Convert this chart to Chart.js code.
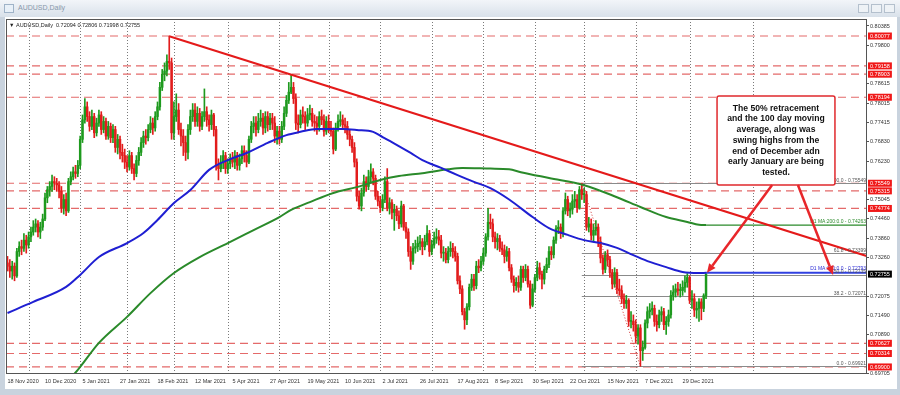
<!DOCTYPE html>
<html>
<head>
<meta charset="utf-8">
<script src="https://cdn.jsdelivr.net/npm/chart.js@4.4.1/dist/chart.umd.min.js"></script>
<style>
  html, body { margin: 0; padding: 0; background: #cfd8e2; }
  #wrap { position: relative; width: 900px; height: 395px; overflow: hidden; background: #c9d3de; font-family: "Liberation Sans", Arial, sans-serif; }
  #title { position: absolute; left: 0; top: 0; width: 900px; height: 17px; background: linear-gradient(#f2f5f9, #d9e1ea); }
  #title .ico { position: absolute; left: 4px; top: 4px; width: 8px; height: 7px; border: 1px solid #9fb3c8; background: #e8f0f8; }
  #title .txt { position: absolute; left: 18px; top: 4px; font-size: 7px; color: #8797aa; }
  #title .btn { position: absolute; top: 4px; width: 9px; height: 7px; border: 1px solid #b4c0cd; background: #eef2f6; }
  #panel { position: absolute; left: 5px; top: 17px; width: 892px; height: 372px; background: #fff; }
  canvas { position: absolute; left: 0; top: 0; }
</style>
</head>
<body>
<div id="wrap">
  <div id="title">
    <div class="ico"></div><div class="txt">AUDUSD,Daily</div>
    <div class="btn" style="left:858px"></div><div class="btn" style="left:871px"></div><div class="btn" style="left:884px"></div>
  </div>
  <div id="panel"></div>
  <canvas id="chart" width="900" height="395"></canvas>
</div>
<script>
/* AUDUSD daily candles, 18 Nov 2020 - 12 Jan 2022 */

const symbolName = 'AUDUSD,Daily';
const firstOpen = 0.7310;

const closes = [
  0.7300,0.7285,0.7300,0.7270,0.7345,0.7360,0.7355,0.7380,0.7365,0.7390,0.7405,0.7420,0.7430,0.7405,0.7420,0.7445,
  0.7510,0.7535,0.7545,0.7560,0.7555,0.7550,0.7530,0.7480,0.7505,0.7470,0.7560,0.7575,0.7590,0.7585,0.7610,0.7690,
  0.7750,0.7790,0.7760,0.7730,0.7760,0.7710,0.7740,0.7765,0.7720,0.7745,0.7700,0.7730,0.7695,0.7720,0.7665,0.7690,
  0.7650,0.7640,0.7620,0.7605,0.7640,0.7600,0.7585,0.7625,0.7650,0.7680,0.7700,0.7695,0.7720,0.7740,0.7725,0.7760,
  0.7790,0.7850,0.7890,0.7900,0.7930,0.7925,0.7710,0.7760,0.7780,0.7720,0.7700,0.7680,0.7650,0.7720,0.7760,0.7780,
  0.7745,0.7770,0.7730,0.7760,0.7775,0.7750,0.7735,0.7765,0.7720,0.7610,0.7600,0.7620,0.7640,0.7600,0.7615,0.7630,
  0.7620,0.7640,0.7610,0.7630,0.7655,0.7640,0.7620,0.7690,0.7730,0.7740,0.7720,0.7745,0.7755,0.7725,0.7760,0.7735,
  0.7755,0.7740,0.7700,0.7715,0.7690,0.7730,0.7770,0.7810,0.7835,0.7850,0.7815,0.7740,0.7735,0.7765,0.7760,0.7740,
  0.7765,0.7770,0.7745,0.7740,0.7730,0.7760,0.7750,0.7715,0.7745,0.7725,0.7715,0.7660,0.7725,0.7745,0.7750,0.7735,
  0.7730,0.7705,0.7690,0.7665,0.7620,0.7515,0.7485,0.7525,0.7560,0.7545,0.7575,0.7590,0.7570,0.7515,0.7500,0.7480,
  0.7505,0.7560,0.7480,0.7495,0.7465,0.7475,0.7455,0.7430,0.7485,0.7420,0.7405,0.7345,0.7315,0.7355,0.7360,0.7370,
  0.7375,0.7360,0.7375,0.7400,0.7345,0.7365,0.7385,0.7390,0.7380,0.7340,0.7340,0.7320,0.7345,0.7355,0.7345,0.7330,
  0.7255,0.7230,0.7160,0.7135,0.7175,0.7235,0.7260,0.7240,0.7300,0.7295,0.7315,0.7340,0.7390,0.7435,0.7430,0.7390,
  0.7375,0.7385,0.7355,0.7350,0.7330,0.7345,0.7295,0.7260,0.7240,0.7250,0.7235,0.7290,0.7265,0.7290,0.7245,0.7180,
  0.7230,0.7265,0.7295,0.7275,0.7260,0.7290,0.7305,0.7345,0.7335,0.7380,0.7415,0.7420,0.7400,0.7470,0.7505,0.7470,
  0.7475,0.7500,0.7505,0.7480,0.7535,0.7520,0.7520,0.7420,0.7430,0.7395,0.7410,0.7420,0.7375,0.7325,0.7290,0.7335,
  0.7320,0.7280,0.7245,0.7280,0.7230,0.7225,0.7200,0.7185,0.7195,0.7130,0.7130,0.7120,0.7085,0.7110,0.7040,0.7050,
  0.7125,0.7160,0.7165,0.7170,0.7130,0.7120,0.7150,0.7160,0.7120,0.7130,0.7150,0.7210,0.7220,0.7230,0.7225,0.7225,
  0.7235,0.7250,0.7265,0.7195,0.7200,0.7165,0.7170,0.7190,0.7170,0.72094,0.72755
];

const highs = [
  0.7330,0.7320,0.7315,0.7310,0.7355,0.7375,0.7380,0.7400,0.7395,0.7405,0.7420,0.7440,0.7445,0.7440,0.7435,0.7460,
  0.7525,0.7545,0.7560,0.7580,0.7575,0.7570,0.7560,0.7545,0.7520,0.7525,0.7570,0.7590,0.7605,0.7610,0.7625,0.7700,
  0.7765,0.7815,0.7805,0.7775,0.7780,0.7770,0.7755,0.7780,0.7775,0.7760,0.7755,0.7745,0.7740,0.7735,0.7730,0.7705,
  0.7700,0.7675,0.7660,0.7640,0.7655,0.7650,0.7615,0.7640,0.7665,0.7695,0.7715,0.7720,0.7735,0.7760,0.7755,0.7775,
  0.7805,0.7865,0.7905,0.7925,0.7950,0.8007,0.7940,0.7805,0.7830,0.7800,0.7740,0.7720,0.7700,0.7735,0.7780,0.7800,
  0.7800,0.7790,0.7785,0.7775,0.7845,0.7790,0.7765,0.7780,0.7770,0.7730,0.7630,0.7640,0.7655,0.7650,0.7630,0.7645,
  0.7650,0.7655,0.7650,0.7645,0.7670,0.7670,0.7655,0.7700,0.7745,0.7760,0.7760,0.7770,0.7780,0.7770,0.7775,0.7775,
  0.7770,0.7770,0.7760,0.7730,0.7730,0.7745,0.7790,0.7825,0.7865,0.7890,0.7865,0.7830,0.7765,0.7780,0.7790,0.7775,
  0.7785,0.7795,0.7785,0.7765,0.7760,0.7775,0.7780,0.7765,0.7760,0.7765,0.7745,0.7725,0.7740,0.7765,0.7775,0.7765,
  0.7755,0.7745,0.7720,0.7700,0.7680,0.7630,0.7530,0.7540,0.7580,0.7575,0.7595,0.7615,0.7600,0.7580,0.7530,0.7515,
  0.7520,0.7575,0.7600,0.7510,0.7505,0.7490,0.7485,0.7470,0.7500,0.7490,0.7435,0.7415,0.7360,0.7370,0.7380,0.7390,
  0.7395,0.7385,0.7395,0.7425,0.7410,0.7380,0.7405,0.7415,0.7410,0.7395,0.7360,0.7355,0.7360,0.7375,0.7370,0.7360,
  0.7340,0.7270,0.7240,0.7170,0.7185,0.7245,0.7275,0.7275,0.7315,0.7320,0.7330,0.7355,0.7400,0.7478,0.7460,0.7445,
  0.7405,0.7400,0.7395,0.7375,0.7365,0.7360,0.7355,0.7305,0.7270,0.7265,0.7270,0.7300,0.7300,0.7305,0.7300,0.7255,
  0.7245,0.7275,0.7315,0.7310,0.7285,0.7300,0.7325,0.7360,0.7360,0.7390,0.7425,0.7440,0.7430,0.7480,0.7525,0.7515,
  0.7495,0.7520,0.7530,0.7520,0.7545,0.7555,0.7540,0.7530,0.7450,0.7445,0.7430,0.7440,0.7430,0.7390,0.7335,0.7345,
  0.7350,0.7330,0.7290,0.7295,0.7290,0.7260,0.7240,0.7215,0.7210,0.7200,0.7160,0.7150,0.7135,0.7120,0.7120,0.7070,
  0.7135,0.7175,0.7185,0.7190,0.7180,0.7150,0.7165,0.7175,0.7170,0.7145,0.7165,0.7225,0.7240,0.7245,0.7250,0.7245,
  0.7255,0.7270,0.7277,0.7270,0.7225,0.7215,0.7190,0.7200,0.7200,0.7215,0.72806
];

const lows = [
  0.7285,0.7265,0.7260,0.7255,0.7265,0.7330,0.7335,0.7345,0.7340,0.7355,0.7375,0.7395,0.7405,0.7390,0.7385,0.7410,
  0.7440,0.7495,0.7515,0.7530,0.7535,0.7530,0.7510,0.7465,0.7460,0.7455,0.7465,0.7550,0.7565,0.7570,0.7575,0.7600,
  0.7680,0.7740,0.7745,0.7715,0.7720,0.7695,0.7700,0.7730,0.7705,0.7710,0.7690,0.7690,0.7680,0.7680,0.7650,0.7645,
  0.7630,0.7620,0.7600,0.7590,0.7595,0.7585,0.7565,0.7575,0.7610,0.7640,0.7665,0.7675,0.7685,0.7710,0.7705,0.7715,
  0.7750,0.7780,0.7840,0.7870,0.7885,0.7905,0.7690,0.7690,0.7745,0.7705,0.7670,0.7640,0.7625,0.7630,0.7705,0.7745,
  0.7730,0.7730,0.7715,0.7720,0.7745,0.7730,0.7715,0.7720,0.7700,0.7595,0.7565,0.7590,0.7600,0.7585,0.7585,0.7600,
  0.7605,0.7600,0.7595,0.7595,0.7615,0.7620,0.7605,0.7615,0.7680,0.7710,0.7700,0.7710,0.7730,0.7705,0.7710,0.7715,
  0.7720,0.7720,0.7680,0.7675,0.7675,0.7680,0.7720,0.7760,0.7800,0.7830,0.7800,0.7720,0.7710,0.7725,0.7740,0.7720,
  0.7730,0.7750,0.7730,0.7715,0.7705,0.7715,0.7735,0.7700,0.7705,0.7710,0.7700,0.7645,0.7655,0.7715,0.7730,0.7720,
  0.7710,0.7690,0.7670,0.7650,0.7605,0.7500,0.7475,0.7470,0.7515,0.7530,0.7535,0.7560,0.7550,0.7505,0.7485,0.7465,
  0.7470,0.7495,0.7470,0.7460,0.7445,0.7410,0.7440,0.7415,0.7420,0.7410,0.7385,0.7330,0.7290,0.7305,0.7340,0.7345,
  0.7350,0.7335,0.7350,0.7365,0.7330,0.7335,0.7355,0.7370,0.7365,0.7325,0.7315,0.7310,0.7310,0.7330,0.7325,0.7315,
  0.7245,0.7215,0.7150,0.7106,0.7120,0.7165,0.7225,0.7225,0.7230,0.7280,0.7285,0.7305,0.7330,0.7380,0.7415,0.7375,
  0.7355,0.7350,0.7345,0.7335,0.7310,0.7315,0.7285,0.7250,0.7220,0.7225,0.7220,0.7225,0.7250,0.7255,0.7235,0.7170,
  0.7175,0.7220,0.7255,0.7260,0.7230,0.7245,0.7280,0.7295,0.7320,0.7325,0.7370,0.7400,0.7385,0.7390,0.7460,0.7455,
  0.7450,0.7460,0.7480,0.7465,0.7475,0.7505,0.7495,0.7410,0.7405,0.7380,0.7375,0.7395,0.7360,0.7310,0.7275,0.7280,
  0.7300,0.7265,0.7230,0.7235,0.7215,0.7210,0.7185,0.7170,0.7170,0.7115,0.7110,0.7100,0.7065,0.7060,0.6992,0.7010,
  0.7045,0.7110,0.7140,0.7150,0.7115,0.7100,0.7110,0.7130,0.7105,0.7090,0.7115,0.7140,0.7195,0.7205,0.7210,0.7205,
  0.7210,0.7220,0.7235,0.7185,0.7170,0.7145,0.7140,0.7130,0.7135,0.7160,0.71998
];

// x axis: one label every 16 bars
const dateLabels = ['18 Nov 2020','10 Dec 2020','5 Jan 2021','27 Jan 2021','18 Feb 2021','12 Mar 2021','5 Apr 2021',
  '27 Apr 2021','19 May 2021','10 Jun 2021','2 Jul 2021','26 Jul 2021','17 Aug 2021','8 Sep 2021','30 Sep 2021',
  '22 Oct 2021','15 Nov 2021','7 Dec 2021','29 Dec 2021'];
const labelStep = 16;
// bar index of the first session of each month (dotted separators)
const monthStarts = [9, 31, 51, 71, 94, 116, 137, 159, 181, 203, 225, 246, 268, 291, 318];

const priceTicks = [0.80385, 0.79800, 0.78615, 0.78015, 0.77415, 0.76830, 0.76230, 0.75045, 0.74460,
  0.73860, 0.73260, 0.72075, 0.71490, 0.70890, 0.69705];

// moving averages (bar index, value)
const ma100Idx = [0, 11, 25, 31, 39, 51, 58, 64, 71, 78, 86, 94, 102, 111, 119, 125, 132, 143, 149, 156, 160, 166,
  172, 177, 185, 192, 199, 206, 214, 224, 231, 239, 246, 253, 260, 267, 274, 281, 288, 295, 298];
const ma100Val = [0.7156, 0.7190, 0.7236, 0.7273, 0.7328, 0.7371, 0.7402, 0.7442, 0.7494, 0.7534, 0.7596, 0.7626,
  0.7648, 0.7679, 0.7703, 0.7713, 0.7722, 0.7722, 0.7719, 0.7713, 0.7697, 0.7673, 0.7648, 0.7626, 0.7602, 0.7580,
  0.7559, 0.7540, 0.7505, 0.7451, 0.7417, 0.7396, 0.7380, 0.7371, 0.7356, 0.7334, 0.7313, 0.7297, 0.7282, 0.7279, 0.72793];
const ma200Idx = [22, 30, 39, 51, 61, 71, 82, 94, 105, 116, 121, 129, 139, 149, 159, 167, 177, 188, 194, 206, 214,
  219, 231, 246, 260, 270, 281, 290, 295, 298];
const ma200Val = [0.6919, 0.6981, 0.7064, 0.7144, 0.7217, 0.7279, 0.7328, 0.7371, 0.7411, 0.7451, 0.7473, 0.7497,
  0.7525, 0.7543, 0.7565, 0.7577, 0.7586, 0.7598, 0.7602, 0.7600, 0.7598, 0.7589, 0.7571, 0.7549, 0.7512, 0.7482,
  0.7451, 0.7436, 0.7427, 0.74263];
const ma100Last = 0.72793;
const ma200Last = 0.74263;

// drawn objects
const trendIdx = [69, 367];
const trendVal = [0.8007, 0.7330];
const fibIdx = [245, 270];
const fibLevels = [0.75549, 0.73399, 0.72735, 0.72071, 0.69921];
const fibNames = ['100.0', '61.8', '50.0', '38.2', '0.0'];
const redLevels = [0.80077, 0.79158, 0.78903, 0.78194, 0.75549, 0.75315, 0.74774, 0.70627, 0.70314, 0.69900];

const noteLines = ['The 50% retracement', 'and the 100 day moving', 'average, along was', 'swing highs from the',
  'end of December adn', 'early January are being', 'tested.'];

const FONT = '"Liberation Sans", Arial, sans-serif';
const GREEN = '#1e9a1e';
const RED = '#e21c1c';

// FX daily bars open at the previous close
const opens = closes.map((c, i) => i === 0 ? firstOpen : closes[i - 1]);
const candleColors = closes.map((c, i) => c >= opens[i] ? GREEN : RED);
const lastBar = closes.length - 1;

// note box and arrows, placed in data units
const noteBox = { x0: 302.7, x1: 353.0, y0: 0.78232, y1: 0.75495 };
const noteArrows = [
  { from: [326.2, 0.75495], to: [298.4, ma100Last] },
  { from: [337.2, 0.75495], to: [352.2, 0.7273] }
];

function drawArrow(ctx, x0, y0, x1, y1) {
  const a = Math.atan2(y1 - y0, x1 - x0);
  const head = 9, half = 4;
  const bx = x1 - head * Math.cos(a), by = y1 - head * Math.sin(a);
  ctx.beginPath();
  ctx.moveTo(x0, y0);
  ctx.lineTo(bx, by);
  ctx.stroke();
  ctx.beginPath();
  ctx.moveTo(x1, y1);
  ctx.lineTo(bx + half * Math.sin(a), by - half * Math.cos(a));
  ctx.lineTo(bx - half * Math.sin(a), by + half * Math.cos(a));
  ctx.closePath();
  ctx.fill();
}

const backdrop = {
  id: 'backdrop',
  beforeDatasetsDraw(chart) {
    const { ctx, chartArea: a, scales: { x, y } } = chart;
    ctx.save();
    ctx.beginPath();
    ctx.rect(a.left, a.top, a.right - a.left, a.bottom - a.top);
    ctx.clip();

    // month separators
    ctx.strokeStyle = '#7a7a7a';
    ctx.lineWidth = 1;
    ctx.setLineDash([1, 2]);
    monthStarts.forEach(m => {
      const px = Math.round(x.getPixelForValue(m)) + 0.5;
      ctx.beginPath();
      ctx.moveTo(px, a.top);
      ctx.lineTo(px, a.bottom);
      ctx.stroke();
    });

    // support / resistance levels
    ctx.strokeStyle = '#e46a6a';
    ctx.lineWidth = 1.2;
    ctx.setLineDash([8, 5]);
    redLevels.forEach(v => {
      const py = y.getPixelForValue(v);
      ctx.beginPath();
      ctx.moveTo(a.left, py);
      ctx.lineTo(a.right, py);
      ctx.stroke();
    });

    // fibonacci levels
    ctx.setLineDash([]);
    ctx.strokeStyle = '#8a8a8a';
    ctx.lineWidth = 1;
    const fx = x.getPixelForValue(fibIdx[0]);
    fibLevels.forEach(v => {
      const py = Math.round(y.getPixelForValue(v)) + 0.5;
      ctx.beginPath();
      ctx.moveTo(fx, py);
      ctx.lineTo(a.right, py);
      ctx.stroke();
    });
    ctx.restore();
  },
  afterDraw(chart) {
    const { ctx, chartArea: a, scales: { x, y } } = chart;
    ctx.save();

    // frame
    ctx.strokeStyle = '#555';
    ctx.lineWidth = 1;
    ctx.strokeRect(a.left + 0.5, a.top + 0.5, a.right - a.left - 1, a.bottom - a.top);

    // header
    ctx.fillStyle = '#222';
    ctx.font = `5.5px ${FONT}`;
    ctx.textBaseline = 'middle';
    ctx.textAlign = 'left';
    const ohlc = [opens[lastBar], highs[lastBar], lows[lastBar], closes[lastBar]].map(v => v.toFixed(5)).join(' ');
    ctx.fillText(`\u25BC ${symbolName}  ${ohlc}`, a.left + 3, a.top + 6);

    // level labels at right edge of plot
    ctx.font = `5px ${FONT}`;
    ctx.textAlign = 'right';
    ctx.textBaseline = 'bottom';
    ctx.fillStyle = '#555';
    fibLevels.forEach((v, i) => {
      ctx.fillText(`${fibNames[i]} - ${v.toFixed(5)}`, a.right - 1, y.getPixelForValue(v) - 0.5);
    });
    ctx.fillStyle = '#2a8a2a';
    ctx.fillText(`D1 MA:200:0.0 - ${ma200Last.toFixed(5)}`, a.right - 1, y.getPixelForValue(ma200Last) - 1);
    ctx.fillStyle = '#2b2bd6';
    ctx.fillText(`D1 MA:100:0.0 - ${ma100Last.toFixed(5)}`, a.right - 1, y.getPixelForValue(ma100Last) - 1.5);

    // note box
    const bx0 = x.getPixelForValue(noteBox.x0), bx1 = x.getPixelForValue(noteBox.x1);
    const by0 = y.getPixelForValue(noteBox.y0), by1 = y.getPixelForValue(noteBox.y1);
    ctx.fillStyle = '#fff';
    ctx.strokeStyle = '#e0282c';
    ctx.lineWidth = 1.5;
    ctx.beginPath();
    ctx.roundRect(bx0, by0, bx1 - bx0, by1 - by0, 2);
    ctx.fill();
    ctx.stroke();
    ctx.fillStyle = '#111';
    ctx.font = `bold 8.6px ${FONT}`;
    ctx.textAlign = 'center';
    ctx.textBaseline = 'middle';
    const lh = 10.7;
    const cy = (by0 + by1) / 2 - lh * (noteLines.length - 1) / 2;
    noteLines.forEach((t, i) => ctx.fillText(t, (bx0 + bx1) / 2, cy + i * lh));

    // arrows
    ctx.strokeStyle = '#e8262a';
    ctx.fillStyle = '#e8262a';
    ctx.lineWidth = 2.5;
    noteArrows.forEach(ar => drawArrow(ctx,
      x.getPixelForValue(ar.from[0]), y.getPixelForValue(ar.from[1]),
      x.getPixelForValue(ar.to[0]), y.getPixelForValue(ar.to[1])));

    // price boxes on the axis
    ctx.font = `5.5px ${FONT}`;
    ctx.textAlign = 'left';
    ctx.textBaseline = 'middle';
    const box = (v, bg) => {
      const py = y.getPixelForValue(v);
      const t = v.toFixed(5);
      const w = ctx.measureText(t).width + 4;
      ctx.fillStyle = bg;
      ctx.fillRect(a.right + 1, py - 3.5, w, 7);
      ctx.fillStyle = '#fff';
      ctx.fillText(t, a.right + 3, py + 0.3);
    };
    redLevels.forEach(v => box(v, '#f01818'));
    box(closes[lastBar], '#000');
    ctx.restore();
  }
};

new Chart(document.getElementById('chart').getContext('2d'), {
  type: 'bar',
  data: {
    datasets: [
      {
        label: 'wicks',
        data: closes.map((c, i) => ({ x: i, y: [lows[i], highs[i]] })),
        backgroundColor: candleColors,
        barThickness: 1,
        grouped: false,
        order: 10
      },
      {
        label: 'bodies',
        data: closes.map((c, i) => ({ x: i, y: [opens[i], c] })),
        backgroundColor: candleColors,
        barThickness: 1.8,
        minBarLength: 1,
        grouped: false,
        order: 9
      },
      {
        type: 'line',
        label: 'MA200',
        data: ma200Idx.map((v, i) => ({ x: v, y: ma200Val[i] })),
        borderColor: '#2a8a2a',
        borderWidth: 2,
        pointRadius: 0,
        cubicInterpolationMode: 'monotone',
        order: 5
      },
      {
        type: 'line',
        label: 'MA200 level',
        data: [{ x: lastBar, y: ma200Last }, { x: 367, y: ma200Last }],
        borderColor: '#2a8a2a',
        borderWidth: 1.2,
        pointRadius: 0,
        order: 5
      },
      {
        type: 'line',
        label: 'MA100',
        data: ma100Idx.map((v, i) => ({ x: v, y: ma100Val[i] })),
        borderColor: '#1f1fd2',
        borderWidth: 2,
        pointRadius: 0,
        cubicInterpolationMode: 'monotone',
        order: 4
      },
      {
        type: 'line',
        label: 'MA100 level',
        data: [{ x: lastBar, y: ma100Last }, { x: 367, y: ma100Last }],
        borderColor: '#3040e0',
        borderWidth: 2,
        pointRadius: 0,
        order: 4
      },
      {
        type: 'line',
        label: 'trend',
        data: trendIdx.map((v, i) => ({ x: v, y: trendVal[i] })),
        borderColor: '#e41a1a',
        borderWidth: 2,
        pointRadius: 0,
        order: 3
      },
      {
        type: 'line',
        label: 'fib',
        data: [{ x: fibIdx[0], y: fibLevels[0] }, { x: fibIdx[1], y: fibLevels[fibLevels.length - 1] }],
        borderColor: '#d03030',
        borderWidth: 1,
        borderDash: [1, 2],
        pointRadius: 0,
        order: 2
      }
    ]
  },
  options: {
    responsive: false,
    animation: false,
    devicePixelRatio: 1,
    layout: { padding: { left: 6, top: 19, right: 5, bottom: 6 } },
    plugins: { legend: { display: false }, tooltip: { enabled: false } },
    scales: {
      x: {
        type: 'linear',
        min: -0.64,
        max: 366.67,
        offset: false,
        grid: { display: false, drawTicks: false, offset: false },
        border: { display: false },
        afterBuildTicks: s => { s.ticks = dateLabels.map((_, i) => ({ value: i * labelStep })); },
        afterFit: s => { s.height = 16; },
        ticks: {
          autoSkip: false, maxRotation: 0, align: 'start', padding: 5.5, color: '#333',
          font: { family: FONT, size: 5.5 },
          callback: v => dateLabels[Math.round(v / labelStep)]
        }
      },
      y: {
        position: 'right',
        min: 0.69714,
        max: 0.80600,
        grid: { drawOnChartArea: false, tickLength: 2, color: '#555' },
        border: { display: false },
        afterBuildTicks: s => { s.ticks = priceTicks.map(v => ({ value: v })); },
        afterFit: s => { s.width = 28; },
        ticks: { padding: 1, color: '#333', font: { family: FONT, size: 5.5 }, callback: v => v.toFixed(5) }
      }
    }
  },
  plugins: [backdrop]
});
</script>
</body>
</html>
